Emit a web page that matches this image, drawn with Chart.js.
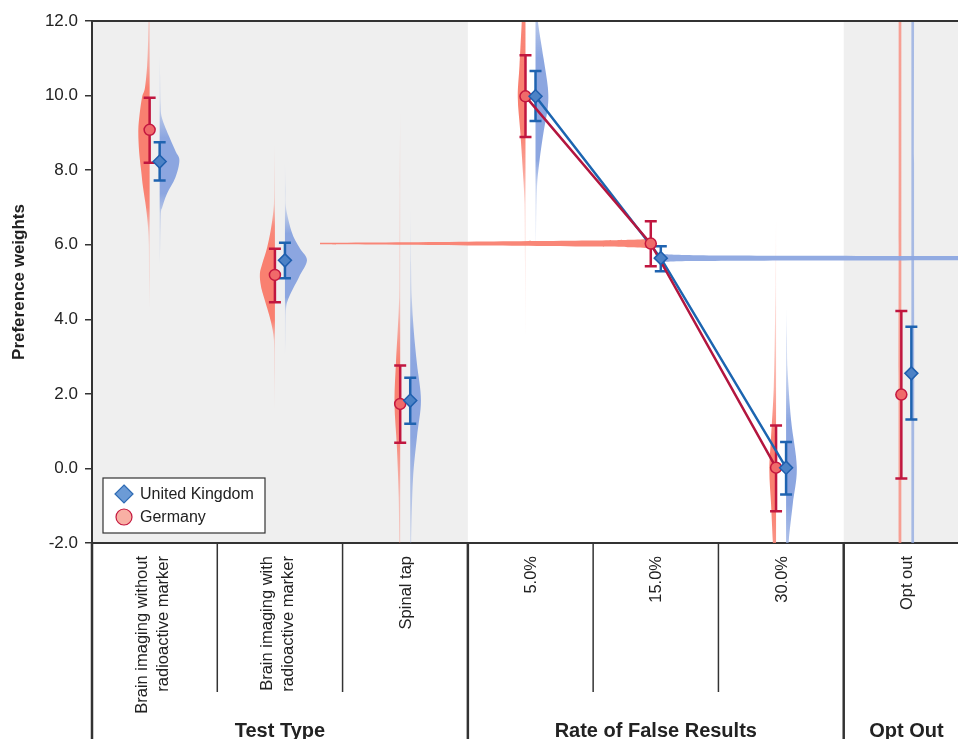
<!DOCTYPE html>
<html>
<head>
<meta charset="utf-8">
<script src="https://cdn.jsdelivr.net/npm/chart.js@4.4.0/dist/chart.umd.min.js"></script>
<style>
  html, body { margin: 0; padding: 0; background: #fff; overflow: hidden; }
  #wrap { width: 977px; height: 739px; }
</style>
</head>
<body>
<div id="wrap"><canvas id="myChart" width="977" height="739"></canvas></div>
<script>
// categories along the x axis (multi-line labels as arrays)
const categories = [
    ['Brain imaging without', 'radioactive marker'],
    ['Brain imaging with', 'radioactive marker'],
    ['Spinal tap'],
    ['5.0%'],
    ['15.0%'],
    ['30.0%'],
    ['Opt out']
];
const groupNames = ['Test Type', 'Rate of False Results', 'Opt Out'];
const groupFirst = [0, 3, 6];
const groupLast = [2, 5, 6];
const groupShaded = [true, false, true];
const linkedCats = [3, 4, 5];   // attribute levels joined by a line

const seriesNames = ['United Kingdom', 'Germany'];

// United Kingdom: mean preference weight and 95% CI
const ukValues = [8.23, 5.58, 1.82, 9.98, 5.64, 0.02, 2.55];
const ukLower  = [7.72, 5.10, 1.20, 9.32, 5.29, -0.70, 1.31];
const ukUpper  = [8.75, 6.05, 2.43, 10.66, 5.96, 0.71, 3.80];

// Germany: mean preference weight and 95% CI
const deValues = [9.08, 5.19, 1.73, 9.98, 6.03, 0.02, 1.98];
const deLower  = [8.20, 4.46, 0.69, 8.89, 5.42, -1.15, -0.27];
const deUpper  = [9.94, 5.89, 2.76, 11.08, 6.63, 1.15, 4.22];

// density profiles [weight, density]
const ukDensity = [
    [[11.1,0],[10.5,0.5],[9.8,1],[9.4,2.3],[8.87,10],[8.5,16],[8.26,19.7],[7.8,15.7],[7.37,7.3],[7.0,2.5],[6.84,1.3],[6.0,0.6],[5.4,0]],
    [[8.2,0],[7.5,0.6],[7.0,1],[6.3,7.3],[5.9,15],[5.58,22],[5.13,14],[4.59,4],[4.24,1],[3.5,0.5],[3.0,0]],
    [[7.0,0],[5.5,0.8],[4.59,1.5],[3.7,3.5],[2.81,6.7],[1.82,10.7],[0.84,6.7],[-0.32,2.7],[-1.93,1],[-2.5,0.8]],
    [[12.5,1.5],[12.0,2.3],[11.0,8],[10.22,12.3],[9.69,12.3],[9.06,8.3],[8.26,4],[7.54,1.5],[6.5,0.6],[5.76,0]],
    [],
    [[4.33,0],[3.5,0.8],[2.63,1.5],[1.29,5],[0.03,10.7],[-0.95,6.7],[-1.93,2.7],[-2.5,2]],
    [[12.5,2.7],[6,2.7],[2.5,2.9],[-2.5,2.7]]
];
const deDensity = [
    [[12.5,0.8],[11.5,1.5],[10.8,2.5],[10.2,4.7],[9.95,7.6],[9.5,10],[9.06,11.3],[8.5,10.5],[8.0,8.5],[7.54,6.6],[7.0,3.6],[6.47,1.6],[6.0,0.8],[5.0,0.5],[4.3,0]],
    [[8.7,0],[7.8,0.5],[7.1,1],[6.5,3.5],[5.93,7.7],[5.5,12.5],[5.22,15],[4.9,14],[4.59,11],[3.97,4.3],[3.43,1],[2.5,0.5],[1.6,0]],
    [[9.6,0],[7.5,0.5],[5.5,0.8],[4.59,1],[3.7,2.5],[2.81,4.3],[1.74,5.7],[0.57,3.3],[-0.77,1.5],[-2.5,0.8]],
    [[12.5,3],[12.0,3.7],[10.8,6],[9.95,7.7],[9.06,5.3],[8.0,2.7],[7.1,1],[5.5,0.5],[3.6,0]],
    [],
    [[6.7,0],[5.0,0.5],[3.97,1],[2.18,2.3],[0.84,5],[-0.05,6.7],[-0.95,5],[-1.93,3.3],[-2.5,2.5]],
    [[12.5,2.7],[6,2.7],[2.5,2.8],[-2.5,2.7]]
];
// the 15.0% level is drawn flat: [position on x axis, half thickness]
const ukFlatBand = [[4.04,0.11],[4.3,0.08],[5.2,0.065],[6.5,0.055],[7.0,0.05]];
const deFlatBand = [[1.32,0.02],[2.5,0.05],[3.5,0.08],[3.8,0.1],[3.96,0.13]];

const yMin = -2, yMax = 12, yStep = 2;

// ---- styling ----
const SHIFT = 0.04;            // side-by-side offset of the two countries
const DENSITY_SCALE = 0.008;   // x-axis units per density unit
const UK = { point: '#4c82c6', pointEdge: '#1f5fae', err: '#1f63b0', line: '#1c65b0', violin: '140, 166, 224' };
const DE = { point: '#f06a6a', pointEdge: '#c4173f', err: '#c0163f', line: '#b3163f', violin: '249, 128, 112' };
const FONT = '"Liberation Sans", Arial, sans-serif';
const INK = '#222';
const FRAME = '#333';

function smoothPath(ctx, pts) {
    for (let i = 0; i < pts.length - 1; i++) {
        const p0 = pts[i - 1] || pts[i], p1 = pts[i], p2 = pts[i + 1], p3 = pts[i + 2] || pts[i + 1];
        ctx.bezierCurveTo(
            p1[0] + (p2[0] - p0[0]) / 6, p1[1] + (p2[1] - p0[1]) / 6,
            p2[0] - (p3[0] - p1[0]) / 6, p2[1] - (p3[1] - p1[1]) / 6,
            p2[0], p2[1]);
    }
}

function alphaFor(d) { return Math.min(1, 0.12 + d / 4.5); }

function drawHalfViolin(ctx, xs, ys, base, dir, profile, rgb) {
    if (!profile.length) return;
    const bx = xs.getPixelForValue(base);
    const pts = profile.map(p => [xs.getPixelForValue(base + dir * p[1] * DENSITY_SCALE), ys.getPixelForValue(p[0])]);
    const top = pts[0][1], bot = pts[pts.length - 1][1];
    const grad = ctx.createLinearGradient(0, top, 0, bot);
    profile.forEach((p, i) => {
        const t = Math.min(1, Math.max(0, (pts[i][1] - top) / (bot - top)));
        grad.addColorStop(t, 'rgba(' + rgb + ',' + alphaFor(p[1]) + ')');
    });
    ctx.beginPath();
    ctx.moveTo(bx, top);
    ctx.lineTo(pts[0][0], pts[0][1]);
    smoothPath(ctx, pts);
    ctx.lineTo(bx, bot);
    ctx.closePath();
    ctx.fillStyle = grad;
    ctx.fill();
}

function drawFlatBand(ctx, xs, ys, yVal, band, rgb) {
    const upper = band.map(b => [xs.getPixelForValue(b[0]), ys.getPixelForValue(yVal + b[1])]);
    const lower = band.map(b => [xs.getPixelForValue(b[0]), ys.getPixelForValue(yVal - b[1])]).reverse();
    ctx.beginPath();
    ctx.moveTo(upper[0][0], upper[0][1]);
    smoothPath(ctx, upper);
    ctx.lineTo(lower[0][0], lower[0][1]);
    smoothPath(ctx, lower);
    ctx.closePath();
    ctx.fillStyle = 'rgba(' + rgb + ',0.95)';
    ctx.fill();
}

function drawErrorBars(ctx, xs, ys, shift, lo, hi, color) {
    ctx.strokeStyle = color;
    ctx.lineWidth = 2.5;
    lo.forEach((l, i) => {
        const x = xs.getPixelForValue(i + shift);
        const y1 = ys.getPixelForValue(l), y2 = ys.getPixelForValue(hi[i]);
        ctx.beginPath();
        ctx.moveTo(x, y1); ctx.lineTo(x, y2);
        ctx.moveTo(x - 6, y1); ctx.lineTo(x + 6, y1);
        ctx.moveTo(x - 6, y2); ctx.lineTo(x + 6, y2);
        ctx.stroke();
    });
}

const shadingPlugin = {
    id: 'shading',
    beforeDraw(chart) {
        const { ctx, chartArea, scales: { x } } = chart;
        ctx.save();
        ctx.fillStyle = '#efefef';
        groupNames.forEach((g, k) => {
            if (!groupShaded[k]) return;
            const x1 = x.getPixelForValue(groupFirst[k] - 0.5);
            const x2 = x.getPixelForValue(groupLast[k] + 0.5);
            ctx.fillRect(x1, chartArea.top, x2 - x1, chartArea.bottom - chartArea.top);
        });
        ctx.restore();
    }
};

const violinPlugin = {
    id: 'violins',
    beforeDatasetsDraw(chart) {
        const { ctx, chartArea, scales: { x, y } } = chart;
        ctx.save();
        ctx.beginPath();
        ctx.rect(chartArea.left, chartArea.top, chartArea.right - chartArea.left, chartArea.bottom - chartArea.top);
        ctx.clip();
        categories.forEach((c, i) => {
            drawHalfViolin(ctx, x, y, i - SHIFT, -1, deDensity[i], DE.violin);
            drawHalfViolin(ctx, x, y, i + SHIFT, 1, ukDensity[i], UK.violin);
        });
        drawFlatBand(ctx, x, y, deValues[4], deFlatBand, DE.violin);
        drawFlatBand(ctx, x, y, ukValues[4], ukFlatBand, UK.violin);
        drawErrorBars(ctx, x, y, -SHIFT, deLower, deUpper, DE.err);
        drawErrorBars(ctx, x, y, SHIFT, ukLower, ukUpper, UK.err);
        ctx.restore();
    }
};

const frameAndLabelsPlugin = {
    id: 'frameLabels',
    afterDraw(chart) {
        const { ctx, chartArea, scales: { x }, height } = chart;
        const bottom = chartArea.bottom;
        ctx.save();
        // top frame line
        ctx.strokeStyle = FRAME;
        ctx.lineWidth = 2;
        ctx.beginPath();
        ctx.moveTo(chartArea.left, chartArea.top);
        ctx.lineTo(chartArea.right, chartArea.top);
        ctx.stroke();

        // dividers in the label area
        categories.forEach((c, i) => {
            if (groupLast.includes(i)) return;
            const px = x.getPixelForValue(i + 0.5);
            ctx.lineWidth = 1.5;
            ctx.beginPath();
            ctx.moveTo(px, bottom);
            ctx.lineTo(px, bottom + 149);
            ctx.stroke();
        });
        groupFirst.forEach(f => {
            const px = x.getPixelForValue(f - 0.5);
            ctx.lineWidth = 2.5;
            ctx.beginPath();
            ctx.moveTo(px, bottom);
            ctx.lineTo(px, height);
            ctx.stroke();
        });

        // rotated category labels
        ctx.fillStyle = INK;
        ctx.font = '16.5px ' + FONT;
        ctx.textAlign = 'right';
        ctx.textBaseline = 'middle';
        categories.forEach((lines, i) => {
            const cx = x.getPixelForValue(i);
            lines.forEach((txt, j) => {
                const lx = cx + (j - (lines.length - 1) / 2) * 21 - (lines.length > 1 ? 2 : -1);
                ctx.save();
                ctx.translate(lx, bottom + 13);
                ctx.rotate(-Math.PI / 2);
                ctx.fillText(txt, 0, 0);
                ctx.restore();
            });
        });

        // group titles
        ctx.font = 'bold 20px ' + FONT;
        ctx.textAlign = 'center';
        ctx.textBaseline = 'alphabetic';
        groupNames.forEach((g, k) => {
            const cx = x.getPixelForValue((groupFirst[k] + groupLast[k]) / 2);
            ctx.fillText(g, cx, bottom + 194);
        });

        // legend box
        const lx = chartArea.left + 11, ly = bottom - 65;
        ctx.fillStyle = '#fff';
        ctx.fillRect(lx, ly, 162, 55);
        ctx.strokeStyle = FRAME;
        ctx.lineWidth = 1.2;
        ctx.strokeRect(lx, ly, 162, 55);
        // UK diamond
        ctx.fillStyle = '#6c9bd6';
        ctx.strokeStyle = '#2e6bb4';
        ctx.lineWidth = 1.2;
        ctx.beginPath();
        ctx.moveTo(lx + 21, ly + 7); ctx.lineTo(lx + 30, ly + 16);
        ctx.lineTo(lx + 21, ly + 25); ctx.lineTo(lx + 12, ly + 16);
        ctx.closePath(); ctx.fill(); ctx.stroke();
        // Germany circle
        ctx.fillStyle = '#f8b0a4';
        ctx.strokeStyle = '#c4173f';
        ctx.beginPath();
        ctx.arc(lx + 21, ly + 39, 8, 0, Math.PI * 2);
        ctx.fill(); ctx.stroke();
        ctx.fillStyle = INK;
        ctx.font = '16px ' + FONT;
        ctx.textAlign = 'left';
        ctx.textBaseline = 'middle';
        ctx.fillText(seriesNames[0], lx + 37, ly + 17);
        ctx.fillText(seriesNames[1], lx + 37, ly + 40);
        ctx.restore();
    }
};

const ctx = document.getElementById('myChart').getContext('2d');
const myChart = new Chart(ctx, {
    type: 'scatter',
    data: {
        datasets: [
            {
                label: seriesNames[0],
                data: ukValues.map((v, i) => ({ x: i + SHIFT, y: v })),
                pointStyle: 'rectRot',
                pointRadius: 6.5,
                backgroundColor: UK.point,
                borderColor: UK.pointEdge,
                borderWidth: 1.5,
                order: 0
            },
            {
                label: seriesNames[1],
                data: deValues.map((v, i) => ({ x: i - SHIFT, y: v })),
                pointStyle: 'circle',
                pointRadius: 5.5,
                backgroundColor: DE.point,
                borderColor: DE.pointEdge,
                borderWidth: 1.5,
                order: 1
            },
            {
                type: 'line',
                data: linkedCats.map(i => ({ x: i - SHIFT, y: deValues[i] })),
                borderColor: DE.line,
                borderWidth: 2.5,
                pointRadius: 0,
                fill: false,
                order: 2
            },
            {
                type: 'line',
                data: linkedCats.map(i => ({ x: i + SHIFT, y: ukValues[i] })),
                borderColor: UK.line,
                borderWidth: 2.5,
                pointRadius: 0,
                fill: false,
                order: 3
            }
        ]
    },
    options: {
        responsive: false,
        animation: false,
        layout: { padding: { top: 21, left: 0, right: 0, bottom: 0 } },
        plugins: { legend: { display: false }, tooltip: { enabled: false } },
        scales: {
            x: {
                type: 'linear',
                position: 'bottom',
                min: -0.5,
                max: categories.length - 0.5,
                ticks: { display: false },
                grid: { display: false },
                border: { display: true, color: FRAME, width: 2 },
                afterFit(scale) { scale.height = 196; }
            },
            y: {
                min: yMin,
                max: yMax,
                ticks: {
                    stepSize: yStep,
                    color: INK,
                    padding: 7,
                    font: { family: FONT, size: 17 },
                    callback: v => v.toFixed(1)
                },
                grid: { drawOnChartArea: false, drawTicks: true, tickLength: 7, color: FRAME, lineWidth: 1.5 },
                border: { display: true, color: FRAME, width: 2 },
                title: {
                    display: true,
                    text: 'Preference weights',
                    color: INK,
                    font: { family: FONT, size: 17, weight: 'bold' },
                    padding: { top: 9, bottom: 0 }
                },
                afterFit(scale) { scale.width = 92; }
            }
        }
    },
    plugins: [shadingPlugin, violinPlugin, frameAndLabelsPlugin]
});
</script>
</body>
</html>
